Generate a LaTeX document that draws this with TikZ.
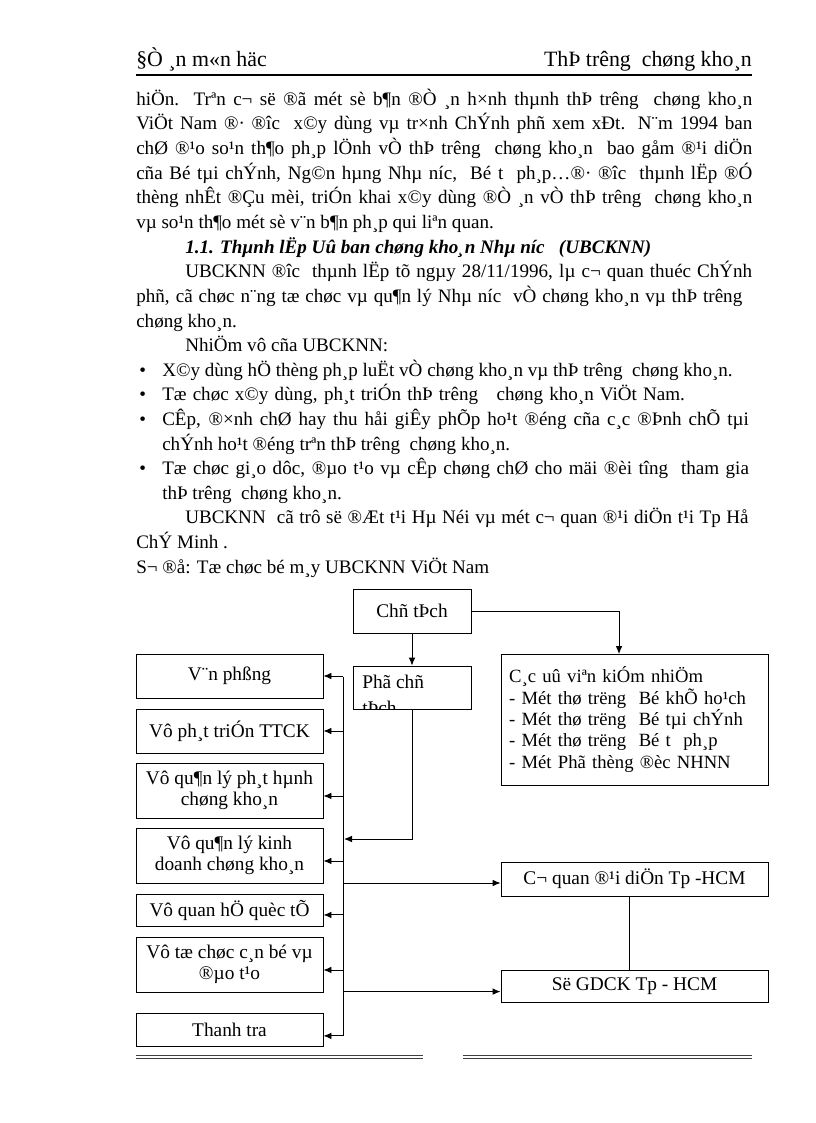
\documentclass[tikz,border=0pt]{standalone}
\usepackage{fontspec}
\setmainfont{Liberation Serif}
\usetikzlibrary{arrows.meta}
\newcommand{\bodyf}{\fontsize{14.3}{18.45}\selectfont}
\newcommand{\diagf}{\fontsize{14.5}{15.75}\selectfont}
\newcommand{\headf}{\fontsize{16.4}{18}\selectfont}
\newcommand{\sk}{\ \ }
\begin{document}
\begin{tikzpicture}[x=0.75pt,y=-0.75pt,
  txt/.style={anchor=base west, inner sep=0pt, font=\bodyf},
  box/.style={draw, line width=0.7pt, inner sep=0pt, font=\diagf, align=center},
  lbox/.style={box, minimum width=140.25pt},
  rbox/.style={box, minimum width=200.25pt},
  link/.style={line width=0.7pt},
  arr/.style={line width=0.7pt, -{Latex[length=6pt,width=5pt]}},
  rule/.style={line width=0.6pt, black!75}]
\useasboundingbox[fill=white] (0,0) rectangle (816,1123);

% header
\node[anchor=base west, inner sep=0pt, font=\headf] (h1) at (136,67) {§Ò ¸n m«n häc};
\node[anchor=base east, inner sep=0pt, font=\headf] (h2) at (752,67) {ThÞ trêng\sk chøng kho¸n};
\coordinate (hl) at (136,75); \coordinate (hr) at (752,75);
\draw[line width=0.8pt] (hl) -- (hr);

% body text
\node[txt] (l0) at (136,105.5) {\makebox[462pt][s]{hiÖn. Trªn c¬ së ®ã mét sè b¶n ®Ò ¸n h×nh thµnh thÞ trêng\sk chøng kho¸n}};
\node[txt] (l1) at (136,130) {\makebox[462pt][s]{ViÖt Nam ®· ®îc\sk x©y dùng vµ tr×nh ChÝnh phñ xem xÐt. N¨m 1994 ban}};
\node[txt] (l2) at (136,154.7) {\makebox[462pt][s]{chØ ®¹o so¹n th¶o ph¸p lÖnh vÒ thÞ trêng\sk chøng kho¸n\sk bao gåm ®¹i diÖn}};
\node[txt] (l3) at (136,179.3) {\makebox[462pt][s]{cña Bé tµi chÝnh, Ng©n hµng Nhµ níc,\sk Bé t\sk ph¸p…®· ®îc\sk thµnh lËp ®Ó}};
\node[txt] (l4) at (136,204) {\makebox[462pt][s]{thèng nhÊt ®Çu mèi, triÓn khai x©y dùng ®Ò ¸n vÒ thÞ trêng\sk chøng kho¸n}};
\node[txt] (l5) at (136,228.5) {vµ so¹n th¶o mét sè v¨n b¶n ph¸p qui liªn quan.};
\node[txt, font=\bodyf\bfseries\itshape] (l6) at (185,253) {1.1. Thµnh lËp Uû ban chøng kho¸n Nhµ níc\ \ \ (UBCKNN)};
\node[txt] (l7) at (185,277.7) {\makebox[425.25pt][s]{UBCKNN ®îc\sk thµnh lËp tõ ngµy 28/11/1996, lµ c¬ quan thuéc ChÝnh}};
\node[txt] (l8) at (136,302.3) {\makebox[454.5pt][s]{phñ, cã chøc n¨ng tæ chøc vµ qu¶n lý Nhµ níc\sk vÒ chøng kho¸n vµ thÞ trêng}};
\node[txt] (l9) at (136,327) {chøng kho¸n.};
\node[txt] (l10) at (185,351.5) {NhiÖm vô cña UBCKNN:};
\node[txt] (b1) at (139,376) {•};
\node[txt] (l11) at (162,376) {X©y dùng hÖ thèng ph¸p luËt vÒ chøng kho¸n vµ thÞ trêng\sk chøng kho¸n.};
\node[txt] (b2) at (139,400.7) {•};
\node[txt] (l12) at (162,400.7) {\makebox[392pt][s]{Tæ chøc x©y dùng, ph¸t triÓn thÞ trêng\ \ \ chøng kho¸n ViÖt Nam.}};
\node[txt] (b3) at (139,425) {•};
\node[txt] (l13) at (162,425) {\makebox[440pt][s]{CÊp, ®×nh chØ hay thu håi giÊy phÕp ho¹t ®éng cña c¸c ®Þnh chÕ tµi}};
\node[txt] (l14) at (162,450) {chÝnh ho¹t ®éng trªn thÞ trêng\sk chøng kho¸n.};
\node[txt] (b4) at (139,474.5) {•};
\node[txt] (l15) at (162,474.5) {\makebox[440pt][s]{Tæ chøc gi¸o dôc, ®µo t¹o vµ cÊp chøng chØ cho mäi ®èi tîng\sk tham gia}};
\node[txt] (l16) at (162,499) {thÞ trêng\sk chøng kho¸n.};
\node[txt] (l17) at (185,523.7) {\makebox[422.5pt][s]{UBCKNN\sk cã trô së ®Æt t¹i Hµ Néi vµ mét c¬ quan ®¹i diÖn t¹i Tp Hå}};
\node[txt] (l18) at (136,548) {ChÝ Minh .};
\node[txt] (l19) at (136,573) {S¬ ®å: Tæ chøc bé m¸y UBCKNN ViÖt Nam};

% diagram boxes
\node[box, minimum width=88.5pt, minimum height=33pt] (ct) at (412,611) {Chñ tÞch};
\node[box, minimum width=88.5pt, minimum height=32.25pt] (pct) at (412,687.5) {};
\begin{scope}
  \clip (354,667) rectangle (470,708);
  \node[txt, font=\diagf] (pct1) at (362,688) {Phã chñ};
  \node[txt, font=\diagf] (pct2) at (362,714) {tÞch};
\end{scope}
\node[lbox, minimum height=33pt] (vp) at (229.5,676) {V¨n phßng};
\node[lbox, minimum height=33pt] (pt) at (229.5,731) {Vô ph¸t triÓn TTCK};
\node[lbox, minimum height=41.25pt] (ph) at (229.5,790.5) {Vô qu¶n lý ph¸t hµnh\\chøng kho¸n};
\node[lbox, minimum height=41.25pt] (kd) at (229.5,855.5) {Vô qu¶n lý kinh\\doanh chøng kho¸n};
\node[lbox, minimum height=24pt] (qt) at (229.5,910) {Vô quan hÖ quèc tÕ};
\node[lbox, minimum height=41.25pt] (tc) at (229.5,964.5) {Vô tæ chøc c¸n bé vµ\\®µo t¹o};
\node[lbox, minimum height=24.75pt] (tt) at (229.5,1029.5) {Thanh tra};
\node[rbox, minimum height=98.25pt, align=left, text width=188pt,
      font=\fontsize{14}{16.1}\selectfont] (uv) at (634.5,719.5)
  {C¸c uû viªn kiÓm nhiÖm\\- Mét thø trëng\sk Bé khÕ ho¹ch\\- Mét thø trëng\sk Bé tµi chÝnh\\- Mét thø trëng\sk Bé t\sk ph¸p\\- Mét Phã thèng ®èc NHNN};
\node[rbox, minimum height=25.5pt] (cq) at (634.5,879) {C¬ quan ®¹i diÖn Tp -HCM};
\node[rbox, minimum height=24pt] (sgd) at (634.5,986) {Së GDCK Tp - HCM};

% connectors
\draw[arr] (ct) -- (pct);
\coordinate (uvin) at (619,654);
\draw[arr] (ct.east) -| (uvin);
\coordinate (bt) at (343,677);
\coordinate (bb) at (343,1036);
\draw[link] (bt) -- (bb);
\draw[arr] (vp.east -| bt) -- (vp.east);
\draw[arr] (pt.east -| bt) -- (pt.east);
\draw[arr] ([yshift=-4.1pt]ph.east -| bt) -- ([yshift=-4.1pt]ph.east);
\draw[arr] ([yshift=-4.1pt]kd.east -| bt) -- ([yshift=-4.1pt]kd.east);
\draw[arr] ([yshift=-3.7pt]qt.east -| bt) -- ([yshift=-3.7pt]qt.east);
\draw[arr] ([yshift=-4.1pt]tc.east -| bt) -- ([yshift=-4.1pt]tc.east);
\draw[arr] ([yshift=-4.8pt]tt.east -| bt) -- ([yshift=-4.8pt]tt.east);
\coordinate (pj) at (344,839);
\draw[arr] (pct.south) |- (pj);
\draw[arr] ([yshift=-3pt]cq.west -| bt) -- ([yshift=-3pt]cq.west);
\draw[link] ([xshift=-4pt]cq.south) -- ([xshift=-4pt]sgd.north);
\draw[arr] ([yshift=-4.2pt]sgd.west -| bt) -- ([yshift=-4.2pt]sgd.west);

% footer rules
\coordinate (fa) at (136,1055); \coordinate (fb) at (423,1055);
\coordinate (fc) at (463,1055); \coordinate (fd) at (752,1055);
\draw[rule] (fa) -- (fb); \draw[rule] ([yshift=-2.2pt]fa) -- ([yshift=-2.2pt]fb);
\draw[rule] (fc) -- (fd); \draw[rule] ([yshift=-2.2pt]fc) -- ([yshift=-2.2pt]fd);
\end{tikzpicture}
\end{document}
